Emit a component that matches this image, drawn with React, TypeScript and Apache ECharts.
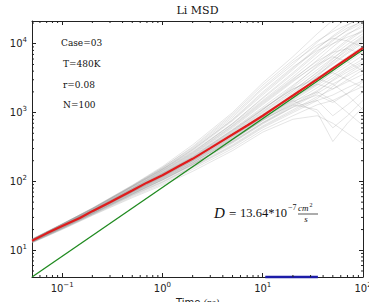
import React, { useEffect, useRef } from "react";
import * as echarts from "echarts";

// Time grid (ns) at which the individual Li trajectories are sampled
const TIMES = [0.05, 0.1, 0.2, 0.5, 1, 2, 5, 10, 20, 35, 50, 70, 100];

// Per-ion mean squared displacement (Å²), one row per trajectory
const TRAJ_MSD = [
  [14.6, 24, 41, 88, 165, 340, 1000, 2700, 6500, 14000, 22000, 32000, 45000],
  [14.4, 24, 40, 85, 155, 300, 850, 2200, 5000, 10500, 16000, 24000, 33000],
  [14.2, 23.5, 39, 82, 148, 280, 760, 1800, 4200, 8500, 13000, 18500, 26000],
  [14.3, 23.8, 40, 84, 150, 270, 700, 1600, 3600, 7200, 11000, 16000, 22000],
  [14.0, 23, 38.5, 79, 140, 250, 640, 1400, 3000, 5800, 9000, 13500, 19000],
  [14.1, 23.2, 38, 78, 135, 240, 600, 1300, 2800, 5200, 7800, 11500, 16000],
  [13.9, 22.8, 37.5, 77, 132, 230, 570, 1200, 2500, 4600, 6800, 9800, 14000],
  [13.9, 22.7, 37.2, 76, 130, 225, 550, 1100, 2300, 4200, 6200, 8800, 12500],
  [13.8, 22.6, 37, 75, 128, 220, 520, 1050, 2100, 3800, 5600, 8000, 11500],
  [13.7, 22.4, 36.8, 74, 124, 215, 500, 990, 1950, 3500, 5000, 7200, 10200],
  [13.7, 22.3, 36.5, 73, 122, 210, 480, 930, 1800, 3200, 4600, 6500, 9300],
  [13.6, 22.2, 36.2, 72, 120, 205, 460, 880, 1700, 3000, 4200, 5900, 8400],
  [13.6, 22, 36, 71, 118, 200, 440, 850, 1600, 2700, 3800, 5300, 7600],
  [13.5, 21.8, 35.5, 70, 115, 195, 420, 800, 1500, 2500, 3500, 4800, 6800],
  [13.4, 21.5, 35, 69, 112, 188, 400, 760, 1400, 2300, 3200, 4400, 6000],
  [13.3, 21.3, 34.5, 67, 108, 180, 380, 720, 1300, 2100, 2900, 3900, 5200],
  [13.2, 21, 34, 65, 104, 172, 360, 680, 1200, 1900, 2600, 3400, 4500],
  [13.1, 20.8, 33.5, 64, 100, 165, 340, 640, 1100, 1700, 2200, 2800, 3600],
  [13, 20.5, 33, 62, 96, 158, 320, 600, 1000, 1500, 1800, 2300, 2900],
  [12.9, 20.3, 32.5, 60, 92, 150, 300, 560, 900, 1300, 1500, 1900, 2400],
  [13.2, 21, 34, 66, 106, 175, 390, 800, 1300, 1100, 600, 900, 1500],
  [13.5, 21.8, 35.5, 70, 114, 190, 420, 850, 1500, 1000, 380, 700, 1200],
  [12.8, 20, 32, 58, 88, 140, 280, 520, 800, 900, 700, 500, 350],
  [13.4, 21.6, 35, 68, 110, 185, 410, 780, 1450, 2000, 1500, 1000, 650],
  [13.9, 22.9, 37.8, 78, 134, 235, 560, 1150, 2200, 3100, 2600, 1800, 1100],
  [14, 23.1, 38.2, 79, 138, 245, 620, 1350, 2900, 5000, 6500, 5500, 4000],
  [14.5, 24.2, 40.5, 86, 160, 310, 900, 2300, 5400, 9500, 12000, 11000, 9000],
  [14.2, 23.6, 39.5, 83, 145, 265, 680, 1500, 3300, 6500, 10000, 14000, 17500],
  [13.8, 22.5, 37, 75, 127, 218, 510, 1020, 2050, 3900, 6000, 9000, 13000],
  [13.6, 22.1, 36, 71.5, 119, 202, 450, 860, 1650, 3300, 5500, 8500, 12000],
  [13.5, 21.9, 35.7, 70.5, 116, 198, 430, 820, 1550, 2600, 4000, 6000, 8000],
  [14.1, 23.3, 38.6, 80, 142, 255, 650, 1450, 3100, 5600, 7500, 8500, 7000],
  [13.3, 21.2, 34.2, 66, 106, 178, 370, 700, 1250, 2000, 3000, 4200, 5500],
  [13.0, 20.6, 33.2, 63, 98, 162, 330, 620, 1050, 1600, 2400, 3600, 5000],
  [14.3, 23.9, 40.2, 85, 152, 290, 800, 2000, 4600, 8000, 10000, 12500, 15000],
  [13.7, 22.4, 36.6, 73.5, 123, 212, 490, 950, 1850, 3600, 5200, 7500, 11000],
  [14.2, 23.7, 39.8, 84, 150, 290, 780, 1900, 4400, 8800, 12500, 17000, 21000],
  [14.4, 24.1, 40.8, 87, 158, 320, 950, 2500, 5800, 11000, 15000, 19000, 24000],
  [14.0, 23.2, 38.8, 80, 143, 260, 690, 1650, 3800, 7600, 11500, 15500, 20000],
  [13.8, 22.6, 37.2, 75.5, 129, 222, 530, 1100, 2400, 4800, 7400, 10800, 15500],
  [13.4, 21.7, 35.2, 68.5, 111, 186, 405, 770, 1350, 1800, 1400, 1900, 2800],
  [13.6, 22.1, 36.1, 71, 117, 199, 445, 870, 1700, 2600, 2200, 3000, 4200],
  [13.9, 22.8, 37.6, 76.5, 131, 228, 545, 1120, 2200, 3300, 3800, 3000, 2300],
  [13.2, 21.1, 34.1, 65.5, 105, 176, 375, 710, 1200, 1500, 900, 1300, 2000],
];

// Ensemble-averaged MSD (Å²)
const MEAN_TIMES = [0.05, 0.07, 0.1, 0.15, 0.2, 0.3, 0.5, 0.7, 1, 1.5, 2, 3, 5, 7, 10, 15, 20, 35, 50, 70, 100];
const MEAN_MSD = [13.8, 17.6, 22.5, 29.5, 37, 50, 74, 96, 123, 170, 213, 305, 480, 650, 900, 1340, 1770, 3060, 4380, 6100, 8700];

// Diffusion coefficient from the linear fit: 13.64e-7 cm²/s == 13.64 Å²/ns
const D_FIT = 13.64;
const FIT_TIMES = [0.05, 100];
// Time window (ns) used for the fit
const FIT_WINDOW = [10.6, 35.5];

const X_MIN = 0.05;
const X_MAX = 100;
const Y_MIN = 4.09;
const Y_MAX = 21400;

const INFO_LINES = ["Case=03", "T=480K", "r=0.08", "N=100"];

function minorTicks(lo: number, hi: number): number[] {
  const out: number[] = [];
  for (let e = Math.floor(Math.log10(lo)); e <= Math.ceil(Math.log10(hi)); e++) {
    for (let m = 2; m <= 9; m++) {
      const v = m * Math.pow(10, e);
      if (v > lo * 1.0001 && v < hi * 0.9999) out.push(v);
    }
  }
  return out;
}

const AXIS_COLOR = "#222";

const powLabel = (v: number) => {
  const e = Math.log10(v);
  const r = Math.round(e);
  if (Math.abs(e - r) > 1e-6) return "";
  return "{b|10}{s|" + (r < 0 ? "\u2212" + -r : String(r)) + "}";
};

const labelRich = {
  b: { fontSize: 10, fontFamily: "DejaVu Sans", color: "#222", lineHeight: 14 },
  s: { fontSize: 7, fontFamily: "DejaVu Sans", color: "#222", lineHeight: 9, verticalAlign: "top" as const },
};

const mathText = (text: string, x: number, y: number, size: number, italic: boolean, align = "left") => ({
  type: "text",
  x,
  y,
  style: {
    text,
    fontFamily: "Liberation Serif",
    fontStyle: italic ? "italic" : "normal",
    fontSize: size,
    fill: "#111",
    textAlign: align,
    textVerticalAlign: "middle",
    align,
    verticalAlign: "middle",
  },
});

export default function App() {
  const ref = useRef<HTMLDivElement>(null);

  useEffect(() => {
    if (!ref.current) return;
    const chart = echarts.init(ref.current, null, { renderer: "svg" });

    const trajSeries = TRAJ_MSD.map((vals, i) => ({
      type: "line" as const,
      name: "ion" + i,
      data: TIMES.map((t, j) => [t, vals[j]]),
      showSymbol: false,
      symbol: "none",
      silent: true,
      xAxisIndex: 0,
      yAxisIndex: 0,
      lineStyle: { color: "rgba(150,150,150,0.35)", width: 0.7 },
      z: 1,
    }));

    const tickStyle = { stroke: AXIS_COLOR, lineWidth: 1 };

    const option: any = {
      animation: false,
      backgroundColor: "#fff",
      title: {
        text: "Li MSD",
        left: 197.5,
        top: 5,
        padding: 0,
        textAlign: "center",
        textStyle: { fontFamily: "DejaVu Serif", fontSize: 11, fontWeight: "normal", color: "#111" },
      },
      grid: { left: 32, right: 6, top: 21, bottom: 25, containLabel: false, outerBoundsMode: "none" },
      xAxis: [
        {
          type: "log",
          logBase: 10,
          min: X_MIN,
          max: X_MAX,
          position: "bottom",
          axisLine: { show: true, lineStyle: { color: AXIS_COLOR, width: 1 } },
          axisTick: { show: true, inside: true, length: 4, lineStyle: { color: AXIS_COLOR } },
          splitLine: { show: false },
          axisLabel: { formatter: powLabel, rich: labelRich, margin: 4, showMinLabel: false },
          name: "Time {m|(ns)}",
          nameLocation: "middle",
          nameGap: 16,
          nameTextStyle: {
            fontFamily: "DejaVu Sans",
            fontSize: 10,
            color: "#222",
            rich: { m: { fontFamily: "Liberation Serif", fontStyle: "italic", fontSize: 10, color: "#222" } },
          },
        },
        {
          type: "log",
          logBase: 10,
          min: X_MIN,
          max: X_MAX,
          position: "top",
          axisLine: { show: true, lineStyle: { color: AXIS_COLOR, width: 1 } },
          axisTick: { show: true, inside: true, length: 4, lineStyle: { color: AXIS_COLOR } },
          splitLine: { show: false },
          axisLabel: { show: false },
        },
      ],
      yAxis: [
        {
          type: "log",
          logBase: 10,
          min: Y_MIN,
          max: Y_MAX,
          position: "left",
          axisLine: { show: true, lineStyle: { color: AXIS_COLOR, width: 1 } },
          axisTick: { show: true, inside: true, length: 4, lineStyle: { color: AXIS_COLOR } },
          splitLine: { show: false },
          axisLabel: { formatter: powLabel, rich: labelRich, margin: 5, showMinLabel: false, showMaxLabel: false },
          name: "Displacement {m|(\u00c5}{s|2}{m|)}",
          nameLocation: "middle",
          nameGap: 24,
          nameTextStyle: {
            fontFamily: "DejaVu Sans",
            fontSize: 10,
            color: "#222",
            rich: {
              m: { fontFamily: "Liberation Serif", fontStyle: "italic", fontSize: 10, color: "#222" },
              s: { fontFamily: "Liberation Serif", fontSize: 7, color: "#222", verticalAlign: "top" },
            },
          },
        },
        {
          type: "log",
          logBase: 10,
          min: Y_MIN,
          max: Y_MAX,
          position: "right",
          axisLine: { show: true, lineStyle: { color: AXIS_COLOR, width: 1 } },
          axisTick: { show: true, inside: true, length: 4, lineStyle: { color: AXIS_COLOR } },
          splitLine: { show: false },
          axisLabel: { show: false },
        },
      ],
      series: [
        ...trajSeries,
        {
          type: "line",
          name: "fit",
          data: FIT_TIMES.map((t) => [t, 6 * D_FIT * t]),
          showSymbol: false,
          symbol: "none",
          silent: true,
          lineStyle: { color: "#1f8a1f", width: 1.3 },
          z: 3,
        },
        {
          type: "line",
          name: "mean",
          data: MEAN_TIMES.map((t, i) => [t, MEAN_MSD[i]]),
          showSymbol: false,
          symbol: "none",
          silent: true,
          lineStyle: { color: "#e01c1c", width: 2.2 },
          z: 4,
        },
        {
          type: "line",
          name: "window",
          data: FIT_WINDOW.map((t) => [t, Y_MIN]),
          showSymbol: false,
          symbol: "none",
          silent: true,
          clip: false,
          lineStyle: { color: "#1c1ca8", width: 2.5 },
          z: 5,
        },
        {
          type: "custom",
          name: "xminor",
          silent: true,
          clip: false,
          z: 6,
          data: minorTicks(X_MIN, X_MAX).map((v) => [v, Y_MIN]),
          renderItem: (params: any, api: any) => {
            const p = api.coord([api.value(0), Y_MIN]);
            const cs = params.coordSys;
            const b = cs.y + cs.height;
            return {
              type: "group",
              children: [
                { type: "line", shape: { x1: p[0], y1: b, x2: p[0], y2: b - 2 }, style: tickStyle },
                { type: "line", shape: { x1: p[0], y1: cs.y, x2: p[0], y2: cs.y + 2 }, style: tickStyle },
              ],
            };
          },
        },
        {
          type: "custom",
          name: "yminor",
          silent: true,
          clip: false,
          z: 6,
          data: minorTicks(Y_MIN, Y_MAX).map((v) => [X_MIN, v]),
          renderItem: (params: any, api: any) => {
            const p = api.coord([X_MIN, api.value(1)]);
            const cs = params.coordSys;
            const r = cs.x + cs.width;
            return {
              type: "group",
              children: [
                { type: "line", shape: { x1: cs.x, y1: p[1], x2: cs.x + 2, y2: p[1] }, style: tickStyle },
                { type: "line", shape: { x1: r, y1: p[1], x2: r - 2, y2: p[1] }, style: tickStyle },
              ],
            };
          },
        },
      ],
      graphic: [
        ...INFO_LINES.map((txt, i) => ({
          type: "text",
          x: i === 0 ? 61 : 63,
          y: 43 + i * 20.8,
          silent: true,
          style: {
            text: txt,
            fontFamily: "DejaVu Serif",
            fontSize: 9,
            fill: "#111",
            textAlign: "left",
            textVerticalAlign: "middle",
            align: "left",
            verticalAlign: "middle",
          },
        })),
        {
          type: "group",
          silent: true,
          children: [
            mathText("D", 214, 213, 15, true),
            mathText("=", 229, 213, 13, false),
            mathText("13.64*10", 240, 213, 12.5, false),
            mathText("\u22127", 288, 207, 8, false),
            mathText("cm", 298, 208, 9, true),
            mathText("2", 309.5, 205, 6, false),
            { type: "line", shape: { x1: 298, y1: 214, x2: 318, y2: 214 }, style: { stroke: "#111", lineWidth: 0.7 } },
            mathText("s", 306, 219, 9, true, "center"),
          ],
        },
      ],
    };

    chart.setOption(option);
    return () => chart.dispose();
  }, []);

  return (
    <div
      ref={ref}
      style={{ position: "fixed", left: 0, top: 0, width: 369, height: 302, background: "#fff" }}
    />
  );
}
